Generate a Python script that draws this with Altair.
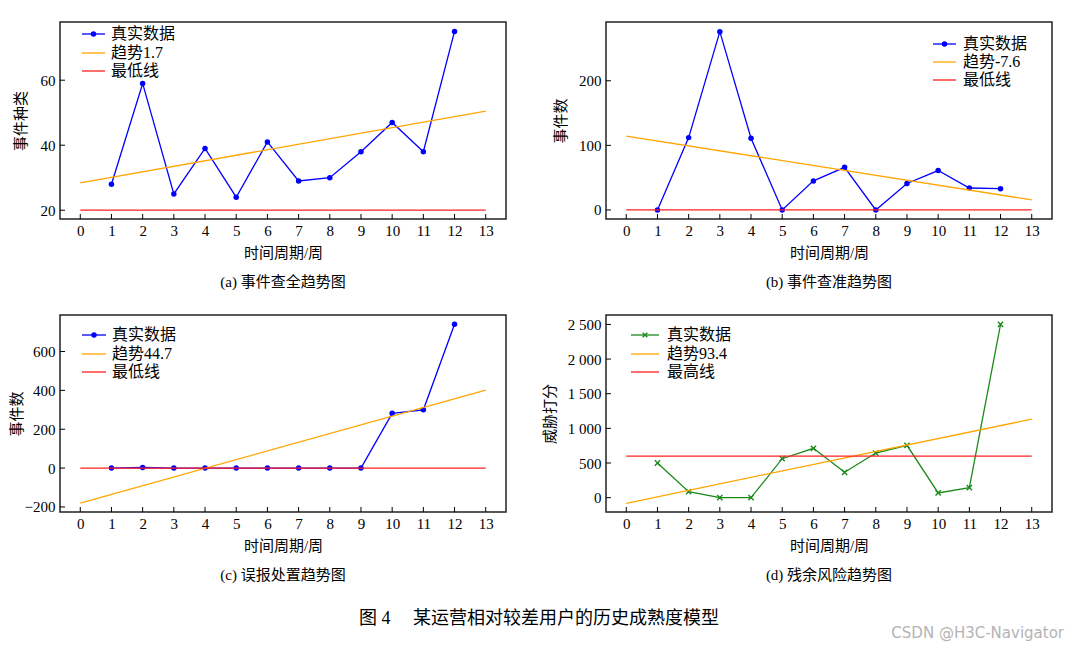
import altair as alt
import pandas as pd

# ---------------- data ----------------
weeks = list(range(1, 13))
a_vals = [28, 59, 25, 39, 24, 41, 29, 30, 38, 47, 38, 75]
b_vals = [0, 112, 276, 111, 0, 45, 66, 0, 41, 61, 34, 33]
c_vals = [0, 3, 0, 0, 0, 0, 0, 0, 0, 282, 300, 740]
d_vals = [500, 86, 0, 0, 562, 712, 366, 644, 755, 68, 144, 2500]

trend_x = [0, 13]
a_trend = [28.4, 50.5]
b_trend = [114.4, 15.6]
c_trend = [-180, 401]
d_trend = [-81, 1133]

ref_x = [0, 13]
a_ref = [20, 20]
b_ref = [0, 0]
c_ref = [0, 0]
d_ref = [600, 600]

x_ticks = list(range(0, 14))
a_yticks = [20, 40, 60]
b_yticks = [0, 100, 200]
c_yticks = [-200, 0, 200, 400, 600]
d_yticks = [0, 500, 1000, 1500, 2000, 2500]

a_labels = ["真实数据", "趋势1.7", "最低线"]
b_labels = ["真实数据", "趋势-7.6", "最低线"]
c_labels = ["真实数据", "趋势44.7", "最低线"]
d_labels = ["真实数据", "趋势93.4", "最高线"]

y_titles = ["事件种类", "事件数", "事件数", "威胁打分"]
x_title = "时间周期/周"
captions = ["(a)  事件查全趋势图", "(b)  事件查准趋势图", "(c)  误报处置趋势图", "(d)  残余风险趋势图"]
fig_caption = ["图 4\u3000 某运营相对较差用户的历史成熟度模型"]
watermark = ["CSDN @H3C-Navigator"]

# ---------------- style ----------------
FONT = "Liberation Serif, Noto Sans CJK SC"
BLUE = "#0000ff"
GREEN = "#1a8a1a"
ORANGE = "#ffa500"
RED = "#ff2020"
W, H = 446, 197
XDOM = [-0.65, 13.65]
XMARK = "M-1,-1L1,1M-1,1L1,-1"


def text_layer(txt, x, y, size=15, font=FONT, color="black", align="center"):
    return alt.Chart(pd.DataFrame({"t": txt})).mark_text(
        font=font, fontSize=size, align=align, baseline="middle",
        color=color).encode(text="t:N", x=alt.value(x), y=alt.value(y))


def panel(vals, trend, ref, ydom, yticks, ytitle, caption, labels, color,
          cross, leg, tpad, extra=()):
    xs = alt.Scale(domain=XDOM, nice=False, zero=False)
    ys = alt.Scale(domain=ydom, nice=False, zero=False)
    xax = alt.Axis(values=x_ticks, title=x_title, format="d", labelPadding=4,
                   titlePadding=7)
    yax = alt.Axis(values=yticks, title=ytitle, titlePadding=tpad, labelPadding=5,
                   labelExpr="replace(format(datum.value, ','), ',', ' ')")
    X = alt.X("x:Q", scale=xs, axis=xax)
    Y = alt.Y("y:Q", scale=ys, axis=yax)

    data = pd.DataFrame({"x": weeks, "y": vals})
    tdf = pd.DataFrame({"x": trend_x, "y": trend})
    rdf = pd.DataFrame({"x": ref_x, "y": ref})

    real_line = alt.Chart(data).mark_line(color=color, strokeWidth=1.3).encode(X, Y)
    if cross:
        pts = alt.Chart(data).mark_point(shape=XMARK, filled=False, size=28,
                                         strokeWidth=1.4, color=color,
                                         opacity=1).encode(X, Y)
    else:
        pts = alt.Chart(data).mark_point(shape="circle", filled=True, size=30,
                                         color=color, opacity=1).encode(X, Y)
    trend_line = alt.Chart(tdf).mark_line(color=ORANGE, strokeWidth=1.3).encode(X, Y)
    ref_line = alt.Chart(rdf).mark_line(color=RED, strokeWidth=1.3).encode(X, Y)

    xt = alt.Chart(pd.DataFrame({"x": x_ticks})).mark_rule(
        color="black", strokeWidth=1).encode(x=X, y=alt.value(H), y2=alt.value(H - 5))
    yt = alt.Chart(pd.DataFrame({"y": yticks})).mark_rule(
        color="black", strokeWidth=1).encode(y=Y, x=alt.value(0), x2=alt.value(5))

    x0, x1, xtx, rows = leg
    layers = [real_line, pts, trend_line, ref_line, xt, yt]
    cols = [color, ORANGE, RED]
    one = pd.DataFrame({"k": [0]})
    for lab, c, yy in zip(labels, cols, rows):
        layers.append(alt.Chart(one).mark_rule(color=c, strokeWidth=1.3).encode(
            x=alt.value(x0), x2=alt.value(x1), y=alt.value(yy)))
        layers.append(text_layer([lab], xtx, yy, size=16, align="left"))
    if cross:
        layers.append(alt.Chart(one).mark_point(
            shape=XMARK, filled=False, size=22, strokeWidth=1.4, color=color,
            opacity=1).encode(x=alt.value((x0 + x1) / 2), y=alt.value(rows[0])))
    else:
        layers.append(alt.Chart(one).mark_point(
            shape="circle", filled=True, size=30, color=color,
            opacity=1).encode(x=alt.value((x0 + x1) / 2), y=alt.value(rows[0])))
    layers.append(text_layer([caption], W / 2, 260))
    layers.extend(extra)

    return alt.layer(*layers).properties(
        width=W, height=H,
        view=alt.ViewBackground(stroke="#222222", strokeWidth=1.5))


cap_layer = text_layer(fig_caption, 479, 304, size=18)
wm_layer = text_layer(watermark, 458, 318, font="DejaVu Sans", color="#b4b4b4",
                      align="right")

pa = panel(a_vals, a_trend, a_ref, [17.3, 77.9], a_yticks, y_titles[0], captions[0],
           a_labels, BLUE, False, (22, 45, 51, [12, 31, 49]), 12)
pb = panel(b_vals, b_trend, b_ref, [-14, 291], b_yticks, y_titles[1], captions[1],
           b_labels, BLUE, False, (327, 350, 357, [22, 40, 58]), 10)
pc = panel(c_vals, c_trend, c_ref, [-226, 788], c_yticks, y_titles[2], captions[2],
           c_labels, BLUE, False, (22, 46, 52, [20, 39, 57]), 0, [cap_layer])
pd_ = panel(d_vals, d_trend, d_ref, [-207, 2636], d_yticks, y_titles[3], captions[3],
            d_labels, GREEN, True, (25, 53, 61, [20, 39, 57]), 10, [wm_layer])

chart = alt.concat(pa, pb, pc, pd_, columns=2, spacing={"row": 96, "column": 100},
                   bounds="flush").properties(
    padding={"left": 0, "top": 13, "right": 0, "bottom": 0},
    background="white",
).configure_axis(
    grid=False, domain=False, ticks=False,
    labelFont="Liberation Serif", labelFontSize=15, labelColor="black",
    titleFont=FONT, titleFontSize=15, titleFontWeight="normal", titleColor="black",
)

chart.save("out.html", embed_options={"renderer": "svg", "actions": False})
